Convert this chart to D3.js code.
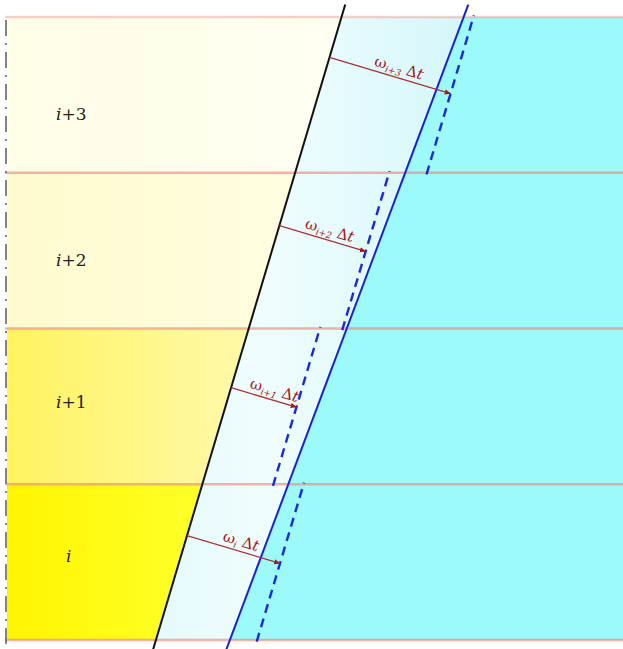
<!DOCTYPE html>
<html>
<head>
<meta charset="utf-8">
<script src="https://cdn.jsdelivr.net/npm/d3@7"></script>
<style>
  html, body { margin: 0; padding: 0; background: #ffffff; }
  svg { display: block; }
  .serif { font-family: "DejaVu Serif", "Liberation Serif", "Times New Roman", serif; }
</style>
</head>
<body>
<script>
// ---------------- data ----------------
const cells = ["i", "i+1", "i+2", "i+3"];              // cell names, bottom to top
const cellSub = ["i", "i+1", "i+2", "i+3"];            // subscripts of ω
const omegaDt = [1.95, 1.37, 1.81, 2.54];              // ω·Δt displacement per cell (x units)
const arrowAt = [0.67, 0.62, 0.66, 0.74];              // where the arrow leaves the front, within the cell
const labelAt = [0.54, 0.53, 0.44, 0.38];              // cell label height, within the cell
const frontY = [-0.06, 4.08];                          // extent of the front lines (cell units)
const frontOld = [2.95, 6.65];                          // black interface x at frontY
const frontNew = [4.36, 9.02];                          // solid blue interface x at frontY
const bandCols = [["#fff500", "#ffff26"], ["#fff35e", "#fff9a4"], ["#fffbcf", "#fffddf"], ["#fffde6", "#fffff2"]];

// ---------------- layout ----------------
const W = 623, H = 649;
const x = d3.scaleLinear().domain([0, 12]).range([0, W]);
const y = d3.scaleLinear().domain([0, 4]).range([640, 17]);
const xLeft = 7;

const svg = d3.select("body").append("svg").attr("width", W).attr("height", H);
const defs = svg.append("defs");

const lerp = (arr, v) => arr[0] + (arr[1] - arr[0]) * (v - frontY[0]) / (frontY[1] - frontY[0]);
const blackX = v => x(lerp(frontOld, v));
const blueX = v => x(lerp(frontNew, v));

// gradients
cells.forEach((c, k) => {
  const g = defs.append("linearGradient").attr("id", "gy" + k)
    .attr("gradientUnits", "userSpaceOnUse")
    .attr("x1", xLeft).attr("x2", blackX(k + 0.5)).attr("y1", 0).attr("y2", 0);
  g.append("stop").attr("offset", 0).attr("stop-color", bandCols[k][0]);
  g.append("stop").attr("offset", 1).attr("stop-color", bandCols[k][1]);
});
const gb = defs.append("linearGradient").attr("id", "gblue")
  .attr("gradientUnits", "userSpaceOnUse")
  .attr("x1", blackX(0)).attr("x2", blueX(4)).attr("y1", 0).attr("y2", 0);
[["0", "#e4fafc"], ["0.35", "#f0fdfe"], ["0.7", "#e2fafc"], ["1", "#d4f7fa"]].forEach(s =>
  gb.append("stop").attr("offset", s[0]).attr("stop-color", s[1]));

// yellow cells (left of the black front)
svg.append("g").selectAll("path").data(cells).join("path")
  .attr("d", (c, k) => {
    const p = d3.path();
    p.moveTo(xLeft, y(k + 1));
    p.lineTo(blackX(k + 1), y(k + 1));
    p.lineTo(blackX(k), y(k));
    p.lineTo(xLeft, y(k));
    p.closePath();
    return p.toString();
  })
  .attr("fill", (c, k) => `url(#gy${k})`);

// light blue strip between the fronts
{
  const p = d3.path();
  p.moveTo(blackX(4), y(4)); p.lineTo(blueX(4), y(4));
  p.lineTo(blueX(0), y(0)); p.lineTo(blackX(0), y(0)); p.closePath();
  svg.append("path").attr("d", p.toString()).attr("fill", "url(#gblue)");
}
// cyan region right of the new front
{
  const p = d3.path();
  p.moveTo(blueX(4), y(4)); p.lineTo(W, y(4));
  p.lineTo(W, y(0)); p.lineTo(blueX(0), y(0)); p.closePath();
  svg.append("path").attr("d", p.toString()).attr("fill", "#9cfafa");
}

// horizontal cell boundaries
svg.append("g").selectAll("line").data(d3.range(0, cells.length + 1)).join("line")
  .attr("x1", xLeft - 2).attr("x2", W)
  .attr("y1", d => y(d)).attr("y2", d => y(d))
  .attr("stroke", "#ee8a78").attr("stroke-opacity", d => d === 4 ? 0.4 : 0.65)
  .attr("stroke-width", 2.6);

// dashed displaced fronts per cell
svg.append("g").selectAll("line").data(cells).join("line")
  .attr("x1", (c, k) => blackX(k - 0.01) + x(omegaDt[k]) - x(0)).attr("y1", (c, k) => y(k - 0.01))
  .attr("x2", (c, k) => blackX(k + 1.01) + x(omegaDt[k]) - x(0)).attr("y2", (c, k) => y(k + 1.01))
  .attr("stroke", "#1a2ad8").attr("stroke-width", 2.4).attr("stroke-dasharray", "9,6");

// black (old) front
svg.append("line")
  .attr("x1", blackX(frontY[0])).attr("y1", y(frontY[0]))
  .attr("x2", blackX(frontY[1])).attr("y2", y(frontY[1]))
  .attr("stroke", "#111").attr("stroke-width", 2);
// blue (new) front
svg.append("line")
  .attr("x1", blueX(frontY[0])).attr("y1", y(frontY[0]))
  .attr("x2", blueX(frontY[1])).attr("y2", y(frontY[1]))
  .attr("stroke", "#1a22d0").attr("stroke-width", 2);

// arrows
defs.append("marker").attr("id", "ah").attr("viewBox", "0 0 10 10")
  .attr("refX", 9).attr("refY", 5).attr("markerWidth", 5).attr("markerHeight", 5)
  .attr("orient", "auto").attr("markerUnits", "strokeWidth")
  .append("path").attr("d", "M0,1 L10,5 L0,9 z").attr("fill", "#b01818");

const slope = (blackX(1) - blackX(0)) / (y(1) - y(0)); // dx/dy in px
const nl = Math.sqrt(1 + slope * slope);
const nx = 1 / nl, ny = -slope / nl;
const angle = Math.atan2(ny, nx) * 180 / Math.PI;

const arrows = cells.map((c, k) => {
  const v = k + arrowAt[k];
  const x0 = blackX(v), y0 = y(v);
  const d = (x(omegaDt[k]) - x(0)) / nl;
  return { k, x0, y0, x1: x0 + nx * d, y1: y0 + ny * d, len: d };
});

svg.append("g").selectAll("line").data(arrows).join("line")
  .attr("x1", a => a.x0).attr("y1", a => a.y0)
  .attr("x2", a => a.x1).attr("y2", a => a.y1)
  .attr("stroke", "#b03030").attr("stroke-width", 1.3)
  .attr("marker-end", "url(#ah)");

const lab = svg.append("g").selectAll("text").data(arrows).join("text")
  .attr("class", "serif")
  .attr("transform", a => {
    const f = a.k === 1 ? 0.62 : 0.55;
    const cx = a.x0 + (a.x1 - a.x0) * f, cy = a.y0 + (a.y1 - a.y0) * f;
    return `translate(${cx},${cy}) rotate(${angle}) translate(0,-5)`;
  })
  .attr("text-anchor", "middle")
  .attr("font-size", 15).attr("fill", "#a51515");
lab.append("tspan").text("ω");
lab.append("tspan").attr("font-size", 9).attr("font-style", "italic").attr("dy", 3).text(a => cellSub[a.k]);
lab.append("tspan").attr("dy", -3).text("\u00a0Δ");
lab.append("tspan").attr("font-style", "italic").text("t");

// cell labels
const cl = svg.append("g").selectAll("text").data(cells).join("text")
  .attr("class", "serif")
  .attr("x", c => c === "i" ? 66 : 56)
  .attr("y", (c, k) => y(k + labelAt[k]) + 6)
  .attr("text-anchor", "start")
  .attr("font-size", 17).attr("fill", "#222");
cl.append("tspan").attr("font-style", "italic").text("i");
cl.append("tspan").text(c => c.slice(1));

// left dash-dot axis
svg.append("line")
  .attr("x1", 6).attr("x2", 6).attr("y1", y(4) + 3).attr("y2", H)
  .attr("stroke", "#666").attr("stroke-width", 1.6)
  .attr("stroke-dasharray", "16,7,2,7");
</script>
</body>
</html>
